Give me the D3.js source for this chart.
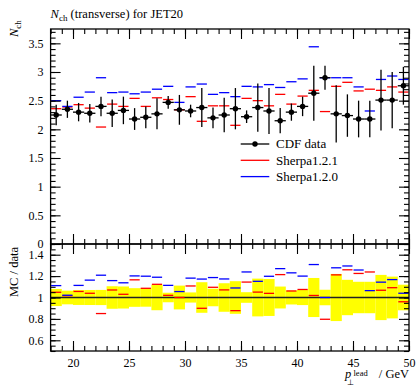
<!DOCTYPE html>
<html><head><meta charset="utf-8">
<script src="https://cdn.jsdelivr.net/npm/d3@7"></script>
<style>
body{margin:0;background:#fff}
text{font-family:"Liberation Serif","Times New Roman",serif;fill:#000}
</style></head><body>
<svg id="chart" width="416" height="386"></svg>
<script>
// Bin edges in leading-jet pT (GeV)
const binEdges = [18,19,20,21,22,23,24,25,26,27,28,29,30,31,32,33,34,35,36,37,38,39,40,41,42,43,44,45,46,47,48,49,50];
// CDF measurement and its uncertainty
const cdfData = [2.25,2.35,2.30,2.28,2.40,2.28,2.33,2.18,2.21,2.27,2.47,2.34,2.32,2.38,2.20,2.25,2.36,2.22,2.38,2.32,2.15,2.30,2.40,2.63,2.90,2.27,2.24,2.18,2.18,2.51,2.51,2.76];
const cdfErr  = [0.18,0.15,0.16,0.16,0.17,0.24,0.24,0.19,0.19,0.27,0.11,0.26,0.11,0.34,0.18,0.30,0.36,0.11,0.42,0.40,0.22,0.15,0.17,0.48,0.21,0.50,0.37,0.32,0.32,0.53,0.49,0.33];
// Generator predictions
const sherpa121 = [2.36,2.39,2.43,2.37,2.04,2.44,2.40,2.54,2.40,2.55,2.52,2.34,2.57,2.14,2.41,2.41,2.07,2.54,2.50,2.41,2.61,2.44,2.58,2.68,2.31,2.75,2.82,2.67,2.70,2.68,2.74,2.65];
const sherpa120 = [2.50,2.40,2.56,2.65,2.90,2.64,2.65,2.62,2.65,2.70,2.75,2.47,2.74,2.79,2.61,2.64,2.57,2.75,2.74,2.78,2.73,2.83,2.88,3.44,2.90,2.90,2.90,2.74,2.32,2.87,2.93,2.87];

const seriesNames = ["CDF data","Sherpa1.2.1","Sherpa1.2.0"];
const xMajorTicks = [20,25,30,35,40,45,50];
const xTickLabels = ["20","25","30","35","40","45","50"];
const yMajorTicks = [0,0.5,1,1.5,2,2.5,3,3.5];
const yTickLabels = ["0","0.5","1","1.5","2","2.5","3","3.5"];
const ratioTicks = [0.6,0.8,1,1.2,1.4];
const ratioTickLabels = ["0.6","0.8","1","1.2","1.4"];

const svg = d3.select("#chart");
const L = 50.6, R = 409, T = 29, MB = 244, RB = 351;
const red = "#ff0000", blue = "#0000ff";

const x = d3.scaleLinear().domain([18,50]).range([L,R]);
const y = d3.scaleLinear().domain([0,3.75]).range([MB,T]);
const yr = d3.scaleLinear().domain([0.5,1.5]).range([RB,MB]);

const bins = cdfData.map((v,i)=>({
  lo: binEdges[i], hi: binEdges[i+1], mid:(binEdges[i]+binEdges[i+1])/2,
  v, e: cdfErr[i], s121: sherpa121[i], s120: sherpa120[i]
}));

// ---------- ratio panel ----------
const gr = svg.append("g");
gr.selectAll("rect.band").data(bins).join("rect")
  .attr("x", d=>x(d.lo)).attr("width", d=>x(d.hi)-x(d.lo))
  .attr("y", d=>yr(1+d.e/d.v)).attr("height", d=>yr(1-d.e/d.v)-yr(1+d.e/d.v))
  .attr("fill","#ffff00");
gr.append("line").attr("x1",L).attr("x2",R).attr("y1",yr(1)).attr("y2",yr(1))
  .attr("stroke","#222").attr("stroke-width",1.4);
[[ "s121", red ], [ "s120", blue ]].forEach(([k,c])=>{
  gr.selectAll("line."+k).data(bins).join("line").attr("class",k)
    .attr("x1", d=>x(d.lo)+0.5).attr("x2", d=>x(d.hi)-0.5)
    .attr("y1", d=>yr(d[k]/d.v)).attr("y2", d=>yr(d[k]/d.v))
    .attr("stroke", c).attr("stroke-width",1.3);
});

// ---------- main panel ----------
const gm = svg.append("g");
[[ "s121", red ], [ "s120", blue ]].forEach(([k,c])=>{
  gm.selectAll("line."+k).data(bins).join("line").attr("class",k)
    .attr("x1", d=>x(d.lo)+0.5).attr("x2", d=>x(d.hi)-0.5)
    .attr("y1", d=>y(d[k])).attr("y2", d=>y(d[k]))
    .attr("stroke", c).attr("stroke-width",1.3);
});
const pts = gm.selectAll("g.pt").data(bins).join("g").attr("class","pt");
pts.append("line").attr("x1",d=>x(d.lo)).attr("x2",d=>x(d.hi))
  .attr("y1",d=>y(d.v)).attr("y2",d=>y(d.v)).attr("stroke","#000").attr("stroke-width",1.3);
pts.append("line").attr("x1",d=>x(d.mid)).attr("x2",d=>x(d.mid))
  .attr("y1",d=>y(d.v-d.e)).attr("y2",d=>y(d.v+d.e)).attr("stroke","#000").attr("stroke-width",1.3);
pts.append("circle").attr("cx",d=>x(d.mid)).attr("cy",d=>y(d.v)).attr("r",2.7).attr("fill","#000");

// ---------- axes & frames ----------
const range = (a,b,s)=>d3.range(a,b+s/2,s).map(v=>+v.toFixed(3));
function tickSet(g, gen, scale, values, size, labels){
  const ax = gen(scale).tickValues(values).tickSize(-size).tickPadding(7)
    .tickFormat(labels ? (d,i)=>labels[i] : "");
  g.call(ax);
  g.select(".domain").remove();
  g.selectAll(".tick line").attr("stroke","#000").attr("stroke-width",1.1);
  g.selectAll("text").attr("font-size",12).attr("font-family","Liberation Serif, serif").attr("fill","#000");
  return g;
}
// main panel ticks
tickSet(svg.append("g").attr("transform",`translate(${L},0)`), d3.axisLeft, y, yMajorTicks, 10, yTickLabels);
tickSet(svg.append("g").attr("transform",`translate(${L},0)`), d3.axisLeft, y, range(0,3.7,0.1), 5);
tickSet(svg.append("g").attr("transform",`translate(${R},0)`), d3.axisRight, y, yMajorTicks, 10);
tickSet(svg.append("g").attr("transform",`translate(${R},0)`), d3.axisRight, y, range(0,3.7,0.1), 5);
tickSet(svg.append("g").attr("transform",`translate(0,${T})`), d3.axisTop, x, xMajorTicks, 10);
tickSet(svg.append("g").attr("transform",`translate(0,${T})`), d3.axisTop, x, range(18,50,1), 5);
tickSet(svg.append("g").attr("transform",`translate(0,${MB})`), d3.axisBottom, x, xMajorTicks, 10);
tickSet(svg.append("g").attr("transform",`translate(0,${MB})`), d3.axisBottom, x, range(18,50,1), 5);
// ratio panel ticks
tickSet(svg.append("g").attr("transform",`translate(${L},0)`), d3.axisLeft, yr, ratioTicks, 10, ratioTickLabels);
tickSet(svg.append("g").attr("transform",`translate(${L},0)`), d3.axisLeft, yr, range(0.5,1.5,0.05), 5);
tickSet(svg.append("g").attr("transform",`translate(${R},0)`), d3.axisRight, yr, ratioTicks, 10);
tickSet(svg.append("g").attr("transform",`translate(${R},0)`), d3.axisRight, yr, range(0.5,1.5,0.05), 5);
tickSet(svg.append("g").attr("transform",`translate(0,${MB})`), d3.axisTop, x, xMajorTicks, 10);
tickSet(svg.append("g").attr("transform",`translate(0,${MB})`), d3.axisTop, x, range(18,50,1), 5);
tickSet(svg.append("g").attr("transform",`translate(0,${RB})`), d3.axisBottom, x, xMajorTicks, 10, xTickLabels);
tickSet(svg.append("g").attr("transform",`translate(0,${RB})`), d3.axisBottom, x, range(18,50,1), 5);

svg.append("rect").attr("x",L).attr("y",T).attr("width",R-L).attr("height",MB-T)
  .attr("fill","none").attr("stroke","#000").attr("stroke-width",1.3);
svg.append("rect").attr("x",L).attr("y",MB).attr("width",R-L).attr("height",RB-MB)
  .attr("fill","none").attr("stroke","#000").attr("stroke-width",1.3);

// ---------- titles ----------
const title = svg.append("text").attr("x",L).attr("y",18).attr("font-size",12.5);
title.append("tspan").attr("font-style","italic").text("N");
title.append("tspan").attr("font-size",9).attr("dy",3).text("ch");
title.append("tspan").attr("dy",-3).text(" (transverse) for JET20");

const yl = svg.append("text").attr("transform","translate(17.5,37) rotate(-90)").attr("font-size",12.5);
yl.append("tspan").attr("font-style","italic").text("N");
yl.append("tspan").attr("font-size",9).attr("dy",3).text("ch");

svg.append("text").attr("transform","translate(17.5,297) rotate(-90)").attr("font-size",12.5).text("MC / data");

// x-axis label: p_⊥^lead / GeV
svg.append("text").attr("x",409).attr("y",378).attr("text-anchor","end").attr("font-size",12.5).text("/ GeV");
svg.append("text").attr("x",345).attr("y",378).attr("font-size",12.5).attr("font-style","italic").text("p");
svg.append("text").attr("x",353.5).attr("y",375.5).attr("font-size",8.5).text("lead");
svg.append("text").attr("x",347).attr("y",384.5).attr("font-size",8).text("⊥");

// ---------- legend ----------
const lg = svg.append("g");
const legY = [144,160.3,176.6];
const legCol = ["#000", red, blue];
seriesNames.forEach((n,i)=>{
  lg.append("line").attr("x1",240.7).attr("x2",269.3).attr("y1",legY[i]).attr("y2",legY[i])
    .attr("stroke",legCol[i]).attr("stroke-width",1.3);
  if(i===0) lg.append("circle").attr("cx",255).attr("cy",legY[i]).attr("r",2.7).attr("fill","#000");
  lg.append("text").attr("x",276).attr("y",legY[i]+4.3).attr("font-size",13).text(n);
});
</script>
</body></html>
